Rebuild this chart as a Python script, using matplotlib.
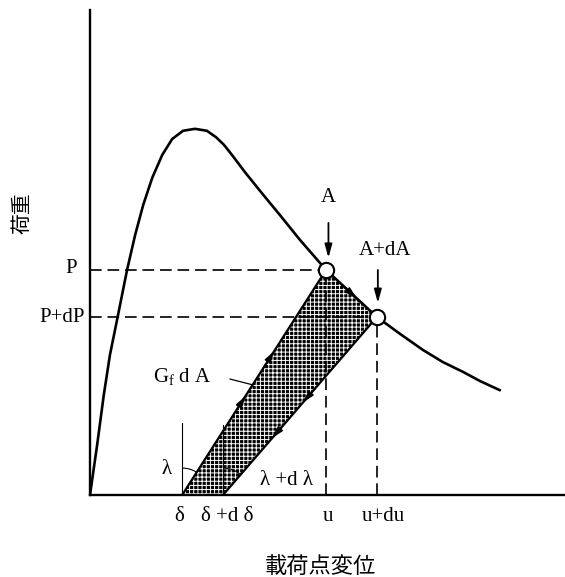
import matplotlib
matplotlib.use('Agg')
import matplotlib.pyplot as plt
import numpy as np
from matplotlib.patches import Polygon, Arc

plt.rcParams['font.family'] = ['Liberation Serif', 'DejaVu Serif']
plt.rcParams['mathtext.fontset'] = 'custom'
plt.rcParams['mathtext.rm'] = 'Liberation Serif'
plt.rcParams['hatch.linewidth'] = 0.7

JP = ['Noto Sans CJK JP', 'DejaVu Sans']

# load - load-point displacement record (arbitrary units)
disp = [0, 0.15, 0.29, 0.42, 0.59, 0.78, 0.95, 1.12, 1.31, 1.52, 1.73, 1.96, 2.21,
        2.46, 2.65, 2.82, 2.99, 3.26, 3.58, 4.00, 4.42, 4.97, 6.04, 6.53, 7.01,
        7.43, 7.85, 8.21, 8.63]
load = [0, 1.03, 2.06, 2.89, 3.71, 4.64, 5.36, 5.98, 6.54, 7.01, 7.34, 7.51, 7.55,
        7.51, 7.38, 7.22, 7.01, 6.66, 6.27, 5.77, 5.26, 4.64, 3.67, 3.32, 2.99,
        2.74, 2.54, 2.35, 2.16]

# state A and A+dA on the softening branch
u, u_du = 4.97, 6.04
P, P_dP = 4.64, 3.67
# residual displacements after unloading
d0, d1 = 1.94, 2.80
ref_h = [1.48, 1.44]

x_labels = ['δ', 'δ +d δ', 'u', 'u+du']
x_label_pos = [1.88, 2.88, 5.0, 6.17]
y_labels = ['P', 'P+dP']

LS = 15

fig = plt.figure(figsize=(5.65, 5.77), dpi=100)
ax = fig.add_axes([90/565, 82/577, 475/565, 485/577])
ax.set_xlim(0, 10)
ax.set_ylim(0, 10)
for s in ['top', 'right']:
    ax.spines[s].set_visible(False)
for s in ['left', 'bottom']:
    ax.spines[s].set_linewidth(1.7)
ax.set_xticks([])
ax.set_yticks([])

# energy dissipated by crack growth dA
ax.add_patch(Polygon([(d0, 0), (u, P), (u_du, P_dP), (d1, 0)], closed=True,
                     facecolor='black', edgecolor='white', hatch='++++', lw=0, zorder=1))

# dashed projections
dash = dict(color='k', lw=1.2, dashes=(7, 3.5), zorder=2)
ax.plot([0, u], [P, P], **dash)
ax.plot([0, u_du], [P_dP, P_dP], **dash)
ax.plot([u, u], [0, P], **dash)
ax.plot([u_du, u_du], [0, P_dP], **dash)

# unloading lines
ax.plot([d0, u], [0, P], color='k', lw=1.6, zorder=3)
ax.plot([d1, u_du], [0, P_dP], color='k', lw=1.6, zorder=3)

# vertical references and compliance angles
ax.plot([d0, d0], [0, ref_h[0]], color='k', lw=0.8)
ax.plot([d1, d1], [0, ref_h[1]], color='k', lw=0.8)
a0 = np.degrees(np.arctan2(P, u - d0))
a1 = np.degrees(np.arctan2(P_dP, u_du - d1))
ax.add_patch(Arc((d0, 0), 1.14, 1.11, theta1=a0, theta2=90, color='k', lw=0.8))
ax.add_patch(Arc((d1, 0), 1.14, 1.11, theta1=a1, theta2=90, color='k', lw=0.8, zorder=3))

# main curve
ax.plot(disp, load, color='k', lw=1.9, zorder=4, solid_capstyle='round',
        solid_joinstyle='round')

# direction arrows along the path
def path_arrow(p0, p1, t0, t1):
    x0 = p0[0] + (p1[0] - p0[0]) * t0
    y0 = p0[1] + (p1[1] - p0[1]) * t0
    x1 = p0[0] + (p1[0] - p0[0]) * t1
    y1 = p0[1] + (p1[1] - p0[1]) * t1
    ax.annotate('', xy=(x1, y1), xytext=(x0, y0),
                arrowprops=dict(arrowstyle='-|>,head_length=0.7,head_width=0.2',
                                color='k', lw=1.0, shrinkA=0, shrinkB=0), zorder=5)

path_arrow((d0, 0), (u, P), 0.36, 0.44)
path_arrow((d0, 0), (u, P), 0.56, 0.64)
path_arrow((u, P), (u_du, P_dP), 0.25, 0.6)
path_arrow((u_du, P_dP), (d1, 0), 0.40, 0.48)
path_arrow((u_du, P_dP), (d1, 0), 0.60, 0.68)

# points A and A+dA
ax.plot([u, u_du], [P, P_dP], 'o', ms=11, mfc='white', mec='k', mew=1.5, zorder=6)

ax.annotate('', xy=(u + 0.05, 4.89), xytext=(u + 0.05, 5.61),
            arrowprops=dict(arrowstyle='-|>,head_length=0.8,head_width=0.22',
                            color='k', lw=1.3, shrinkA=0, shrinkB=0))
ax.annotate('', xy=(u_du + 0.02, 3.96), xytext=(u_du + 0.02, 4.64),
            arrowprops=dict(arrowstyle='-|>,head_length=0.8,head_width=0.22',
                            color='k', lw=1.3, shrinkA=0, shrinkB=0))
ax.text(u + 0.05, 6.14, 'A', fontsize=LS, ha='center', va='center')
ax.text(u_du + 0.17, 5.05, 'A+dA', fontsize=LS, ha='center', va='center')

# G_f dA leader
ax.text(1.94, 2.43, r'G$_{\rm f}$ d A', fontsize=LS, ha='center', va='center')
ax.plot([2.95, 3.43], [2.39, 2.27], color='k', lw=0.9)

ax.text(1.62, 0.52, 'λ', fontsize=LS, ha='center', va='center')
ax.text(4.14, 0.29, 'λ +d λ', fontsize=LS, ha='center', va='center')

# axis labels
for lab, x in zip(x_labels, x_label_pos):
    ax.text(x, -0.45, lab, fontsize=LS, ha='center', va='center', clip_on=False)
ax.text(-0.27, P + 0.04, y_labels[0], fontsize=LS, ha='right', va='center', clip_on=False)
ax.text(-0.10, P_dP - 0.02, y_labels[1], fontsize=LS, ha='right', va='center', clip_on=False)

fig.text(320/565, 1 - 567/577, '載荷点変位', fontsize=16, family=JP, ha='center', va='center')
fig.text(22/565, 1 - 213/577, '荷重', fontsize=15, family=JP, rotation=90,
         ha='center', va='center')

fig.savefig('out.png', dpi=100)
